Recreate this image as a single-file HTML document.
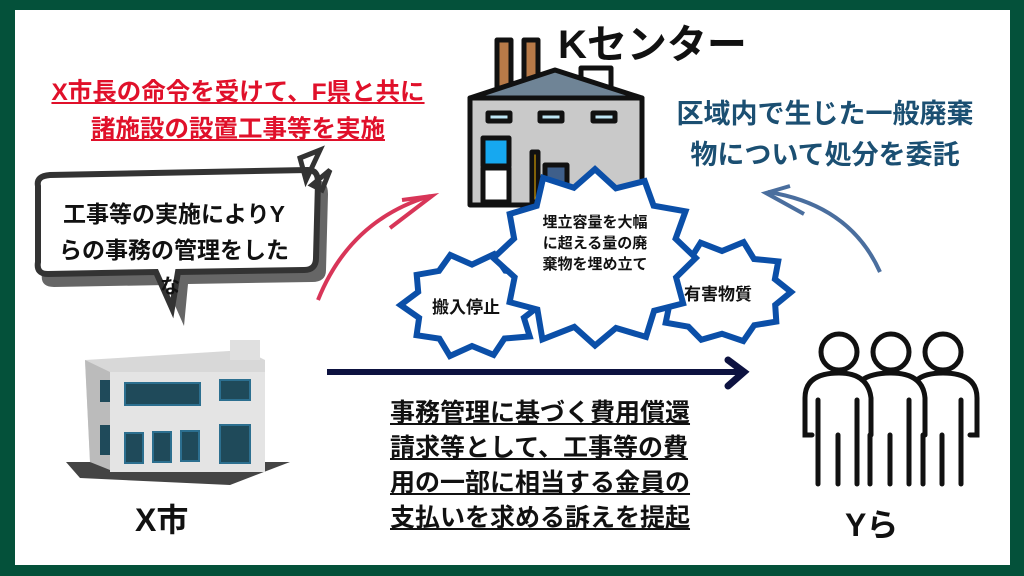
<!DOCTYPE html>
<html><head><meta charset="utf-8">
<style>
html,body{margin:0;padding:0}
body{width:1024px;height:576px;position:relative;overflow:hidden;background:#04513a;font-family:"Liberation Sans","Noto Sans CJK JP",sans-serif}
#in{position:absolute;left:15px;top:10px;width:995px;height:555px;background:#fff}
.t{position:absolute;font-weight:bold;white-space:nowrap;text-align:center}
svg{position:absolute;left:0;top:0}
</style></head><body>
<div id="in"></div>
<svg width="1024" height="576" viewBox="0 0 1024 576">
  <g stroke="#111" stroke-width="5" stroke-linejoin="round">
    <rect x="497" y="40" width="14" height="48" fill="#b87a48"/>
    <rect x="524" y="40" width="14" height="48" fill="#b87a48"/>
    <rect x="581" y="68" width="30" height="20" fill="#fff"/>
    <polygon points="470,98 555,70 642,98" fill="#6f8496"/>
    <rect x="470" y="98" width="172" height="107" fill="#c9c9c9"/>
    <rect x="488" y="113" width="22" height="8" fill="#bfe6f5"/>
    <rect x="540" y="113" width="22" height="8" fill="#bfe6f5"/>
    <rect x="593" y="113" width="22" height="8" fill="#bfe6f5"/>
    <rect x="483" y="138" width="26" height="28" fill="#16a8f0"/>
    <rect x="483" y="168" width="26" height="34" fill="#fff"/>
    <rect x="532" y="152" width="6" height="50" fill="#f2b400"/>
    <rect x="545" y="165" width="22" height="36" fill="#3f5f8a"/>
  </g>
  <path d="M40,188 Q36,178 50,176 L310,172 Q322,172 322,186 L320,262 Q320,274 306,274 L182,276 L178,318 L160,277 L48,279 Q34,279 36,266 Z" fill="#666" transform="translate(6,8)"/>
  <path d="M38,186 Q36,176 50,175 L308,170 Q318,170 318,182 L316,258 Q316,270 304,270 L178,272 L172,308 L156,272 L48,274 Q36,274 38,262 Z" fill="#fff" stroke="#333" stroke-width="6"/>
  <polygon points="300,158 320,150 306,180" fill="none" stroke="#333" stroke-width="5"/>
  <polygon points="312,185 330,170 322,190" fill="none" stroke="#333" stroke-width="5"/>
  <path d="M318,300 Q350,220 430,196" fill="none" stroke="#d83558" stroke-width="4"/>
  <path d="M402,200 L432,196 L390,228" fill="none" stroke="#d83558" stroke-width="4"/>
  <path d="M880,272 Q850,205 768,192" fill="none" stroke="#4a6e9e" stroke-width="4"/>
  <path d="M790,186 L766,193 L804,214" fill="none" stroke="#4a6e9e" stroke-width="4"/>
  <line x1="327" y1="372" x2="742" y2="372" stroke="#0d1240" stroke-width="6"/>
  <path d="M728,360 L744,372 L728,386" fill="none" stroke="#0d1240" stroke-width="7" stroke-linecap="round"/>
  <g id="bursts" fill="#fff" stroke="#0b4fa8" stroke-width="6" stroke-linejoin="miter"></g>
  <polygon points="66,462 290,462 230,485 80,478" fill="#444"/>
  <polygon points="85,360 245,350 265,360 265,468 130,472 90,462" fill="#d8d8d8"/>
  <polygon points="85,360 110,372 110,470 90,462" fill="#bbb"/>
  <rect x="230" y="340" width="30" height="20" fill="#e0e0e0"/>
  <rect x="110" y="372" width="155" height="100" fill="#e4e4e4"/>
  <rect x="125" y="383" width="75" height="22" fill="#1f4a5a" stroke="#2c6f8f" stroke-width="2"/>
  <rect x="220" y="380" width="30" height="20" fill="#1f4a5a" stroke="#2c6f8f" stroke-width="2"/>
  <rect x="125" y="433" width="18" height="30" fill="#1f4a5a" stroke="#2c6f8f" stroke-width="2"/>
  <rect x="153" y="432" width="18" height="30" fill="#1f4a5a" stroke="#2c6f8f" stroke-width="2"/>
  <rect x="181" y="431" width="18" height="30" fill="#1f4a5a" stroke="#2c6f8f" stroke-width="2"/>
  <rect x="220" y="425" width="30" height="38" fill="#1f4a5a" stroke="#2c6f8f" stroke-width="2"/>
  <rect x="100" y="380" width="10" height="22" fill="#1f4a5a"/>
  <rect x="100" y="425" width="10" height="30" fill="#1f4a5a"/>
  <g fill="none" stroke="#111" stroke-width="5" stroke-linecap="round">
    <circle cx="839" cy="352" r="18"/><circle cx="891" cy="352" r="18"/><circle cx="943" cy="352" r="18"/>
    <path d="M812,435 L805,435 L805,398 Q805,373 839,373 Q868,373 871,398 L871,435"/>
    <path d="M862,380 Q872,373 891,373 Q923,373 925,398 L925,435"/>
    <path d="M917,380 Q925,373 943,373 Q977,373 977,398 L977,435 L970,435"/>
    <line x1="818" y1="400" x2="818" y2="484"/><line x1="838" y1="435" x2="838" y2="484"/><line x1="857" y1="400" x2="857" y2="484"/>
    <line x1="870" y1="435" x2="870" y2="484"/><line x1="890" y1="435" x2="890" y2="484"/><line x1="909" y1="400" x2="909" y2="484"/>
    <line x1="923" y1="435" x2="923" y2="484"/><line x1="942" y1="435" x2="942" y2="484"/><line x1="961" y1="400" x2="961" y2="484"/>
  </g>
</svg>
<script>
function burst(cx,cy,rx,ry,n,seed){var d="",s=seed;for(var i=0;i<n*2;i++){var a=i/(n*2)*Math.PI*2;s=(s*9301+49297)%233280;var k=i%2?0.84+0.06*(s/233280):1.04+0.08*(s/233280);d+=(i?"L":"M")+(cx+Math.cos(a)*rx*k).toFixed(1)+","+(cy+Math.sin(a)*ry*k).toFixed(1);}return d+"Z";}
var g=document.getElementById("bursts");
[[472,305,64,48,10,3],[722,292,64,48,10,7],[595,258,94,84,12,5]].forEach(function(b){var p=document.createElementNS("http://www.w3.org/2000/svg","path");p.setAttribute("d",burst.apply(null,b));g.appendChild(p);});
</script>
<div class="t" style="left:38px;top:74px;width:400px;font-size:24.5px;line-height:37px;color:#e0102a;text-decoration:underline">X市長の命令を受けて、F県と共に<br>諸施設の設置工事等を実施</div>
<div class="t" style="left:558px;top:12px;font-size:40px;color:#111">Kセンター</div>
<div class="t" style="left:670px;top:94px;width:310px;font-size:27px;line-height:41px;color:#1b4f72">区域内で生じた一般廃棄<br>物について処分を委託</div>
<div class="t" style="left:38px;top:196px;width:272px;font-size:23px;line-height:36px;color:#111">工事等の実施によりY<br>らの事務の管理をした</div>
<div class="t" style="left:160px;top:270px;font-size:20px;color:#111">な</div>
<div class="t" style="left:538px;top:212px;width:114px;font-size:15px;line-height:21px;color:#111">埋立容量を大幅<br>に超える量の廃<br>棄物を埋め立て</div>
<div class="t" style="left:432px;top:293px;font-size:17px;color:#111">搬入停止</div>
<div class="t" style="left:684px;top:280px;font-size:17px;color:#111">有害物質</div>
<div class="t" style="left:135px;top:495px;font-size:32px;color:#111">X市</div>
<div class="t" style="left:845px;top:500px;font-size:32px;color:#111">Yら</div>
<div class="t" style="left:390px;top:396px;width:320px;font-size:25px;line-height:35px;color:#111;text-decoration:underline;text-align:left">事務管理に基づく費用償還<br>請求等として、工事等の費<br>用の一部に相当する金員の<br>支払いを求める訴えを提起</div>
</body></html>
